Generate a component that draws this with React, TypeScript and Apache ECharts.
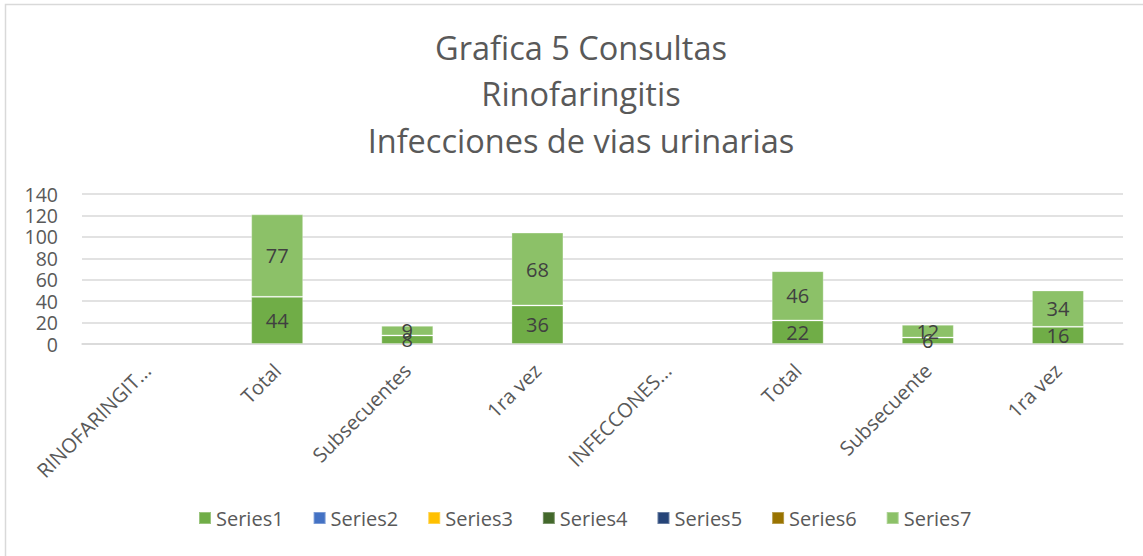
import React, { useEffect, useRef } from "react";
import * as echarts from "echarts";

const categories = [
  "RINOFARINGIT...",
  "Total",
  "Subsecuentes",
  "1ra vez",
  "INFECCONES...",
  "Total",
  "Subsecuente",
  "1ra vez",
];
const series1 = [null, 44, 8, 36, null, 22, 6, 16];
const series7 = [null, 77, 9, 68, null, 46, 12, 34];
const emptySeries = [null, null, null, null, null, null, null, null];
const seriesNames = ["Series1", "Series2", "Series3", "Series4", "Series5", "Series6", "Series7"];
const seriesColors = ["#70AD47", "#4472C4", "#FFC000", "#43682B", "#264478", "#997300", "#8CC168"];
const yTicks = { min: 0, max: 140, interval: 20 };
const titleLines = ["Grafica 5 Consultas", "Rinofaringitis", "Infecciones de vias urinarias"];

export default function App() {
  const ref = useRef<HTMLDivElement>(null);
  useEffect(() => {
    document.body.style.margin = "0";
    const chart = echarts.init(ref.current!, null, { renderer: "svg" });
    const font = "'Open Sans', 'Noto Sans', sans-serif";
    const dataFor = (i: number) => (i === 0 ? series1 : i === 6 ? series7 : emptySeries);
    chart.setOption({
      animation: false,
      backgroundColor: "#ffffff",
      title: {
        text: titleLines.join("\n"),
        left: 581,
        top: 24,
        textAlign: "center",
        padding: 0,
        textStyle: {
          fontFamily: font,
          fontSize: 32.5,
          fontWeight: "normal",
          color: "#595959",
          lineHeight: 46.5,
        },
      },
      graphic: [
        {
          type: "rect",
          shape: { x: 5.5, y: 4.5, width: 1200, height: 600 },
          style: { fill: "none", stroke: "#d9d9d9", lineWidth: 1.5 },
          silent: true,
        },
      ],
      legend: {
        top: 508,
        left: 198,
        padding: 0,
        itemWidth: 12,
        itemHeight: 12,
        itemGap: 29,
        icon: "rect",
        textStyle: { fontFamily: font, fontSize: 20, color: "#595959" },
        data: seriesNames,
      },
      grid: { left: 82, right: 20, top: 194, bottom: 212 },
      xAxis: {
        type: "category",
        data: categories,
        axisLine: { lineStyle: { color: "#d9d9d9", width: 1.5 } },
        axisTick: { show: false },
        axisLabel: {
          rotate: 45,
          interval: 0,
          margin: 23,
          verticalAlign: "middle",
          fontFamily: font,
          fontSize: 20,
          color: "#595959",
        },
      },
      yAxis: {
        type: "value",
        min: yTicks.min,
        max: yTicks.max,
        interval: yTicks.interval,
        axisLine: { show: false },
        axisTick: { show: false },
        splitLine: { lineStyle: { color: "#d9d9d9", width: 1.5 } },
        axisLabel: { fontFamily: font, fontSize: 19.5, color: "#595959", margin: 24 },
      },
      series: seriesNames.map((name, i) => ({
        name,
        type: "bar",
        stack: "total",
        barWidth: 52,
        data: dataFor(i),
        itemStyle: { color: seriesColors[i], borderColor: "rgba(255,255,255,0.3)", borderWidth: 1 },
        label: {
          show: true,
          position: "inside",
          fontFamily: font,
          fontSize: 20,
          color: "#404040",
        },
      })),
    });
    return () => chart.dispose();
  }, []);
  return <div ref={ref} style={{ width: 1143, height: 556 }} />;
}
